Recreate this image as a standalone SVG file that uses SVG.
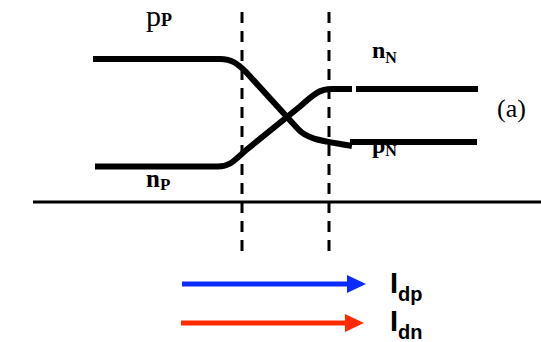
<svg xmlns="http://www.w3.org/2000/svg" width="541" height="342" viewBox="0 0 541 342">
<style>
.thick{fill:none;stroke:#000;stroke-width:6;stroke-linejoin:round}
.dash{fill:none;stroke:#000;stroke-width:3;stroke-dasharray:11 8}
.axis{fill:none;stroke:#000;stroke-width:3}
.lab{font-family:"Liberation Serif","Times New Roman",serif;fill:#000}
.cur{font-family:"Liberation Sans",Arial,sans-serif;font-weight:bold;fill:#000}
</style>
<defs>
<marker id="hb" markerUnits="userSpaceOnUse" markerWidth="20" markerHeight="20" refX="0" refY="9" orient="auto" viewBox="0 0 20 20">
<polygon points="0,0 19,9 0,18" fill="#0b2cff"/>
</marker>
<marker id="hr" markerUnits="userSpaceOnUse" markerWidth="20" markerHeight="20" refX="0" refY="9" orient="auto" viewBox="0 0 20 20">
<polygon points="0,0 19,9 0,18" fill="#ff2a00"/>
</marker>
</defs>
<rect width="541" height="342" fill="#fff"/>
<g id="connectors">
<path class="thick" d="M93,59 H220 C232,59 238,64 246,72 L298,129 C308,140 325,141 352,146"/>
<path class="thick" d="M95,166.5 H218 C230,166.5 235,160 245,151 L300,106.5 C312,96 318,89 332,89 H352"/>
<path class="thick" d="M356,89 H478"/>
<path class="thick" d="M350,142 H477"/>
<path class="dash" d="M242,12 V253"/>
<path class="dash" d="M329,12 V253"/>
<path class="axis" d="M33,202 H541"/>
<path d="M182,284 H347" stroke="#0b2cff" stroke-width="5" marker-end="url(#hb)"/>
<path d="M181,323 H345" stroke="#ff2a00" stroke-width="5" marker-end="url(#hr)"/>
</g>
<g id="pP"><text class="lab" x="146" y="26" font-size="30">p<tspan font-size="18" font-weight="bold">P</tspan></text></g>
<g id="nP"><text class="lab" x="146" y="187" font-size="25" font-weight="bold">n<tspan font-size="17" dy="3">P</tspan></text></g>
<g id="nN"><text class="lab" x="372" y="58" font-size="24" font-weight="bold">n<tspan font-size="16" dy="5">N</tspan></text></g>
<g id="pN"><text class="lab" x="372" y="153" font-size="24" font-weight="bold">p<tspan font-size="16" dy="3">N</tspan></text></g>
<g id="a"><text class="lab" x="497" y="117" font-size="26">(a)</text></g>
<g id="Idp"><text class="cur" x="390" y="293" font-size="29">I<tspan font-size="20" dy="8">dp</tspan></text></g>
<g id="Idn"><text class="cur" x="390" y="331" font-size="29">I<tspan font-size="20" dy="8">dn</tspan></text></g>
</svg>
